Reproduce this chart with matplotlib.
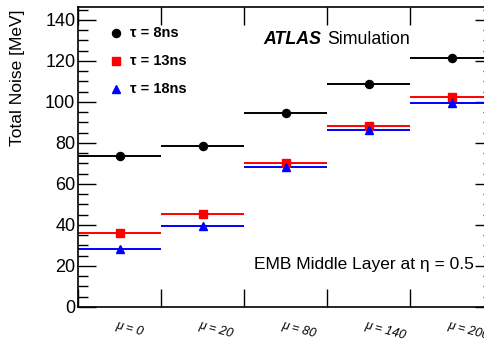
import matplotlib
matplotlib.use("Agg")
import matplotlib.pyplot as plt
from matplotlib.ticker import MultipleLocator, FixedLocator
import matplotlib.transforms as mtransforms

plt.rcParams['font.family'] = ['Liberation Sans', 'DejaVu Sans']

# data
bin_labels = ["\u03bc = 0", "\u03bc = 20", "\u03bc = 80", "\u03bc = 140", "\u03bc = 200"]
noise_8ns = [73.7, 78.7, 94.8, 108.5, 121.3]
noise_13ns = [36.2, 45.2, 70.2, 88.3, 102.2]
noise_18ns = [28.3, 39.5, 68.3, 86.2, 99.6]
series_labels = ["\u03c4 = 8ns", "\u03c4 = 13ns", "\u03c4 = 18ns"]

fig = plt.figure(figsize=(4.85, 3.43), dpi=100)
ax = fig.add_axes([0.161, 0.105, 1.0165 - 0.161, 0.875])

n = len(bin_labels)
centers = [i + 0.5 for i in range(n)]
series = [(noise_8ns, 'black', 'o', 5.8), (noise_13ns, '#ff0000', 's', 5.4), (noise_18ns, '#0000ff', '^', 5.4)]
for vals, col, mk, ms in series:
    for i, v in enumerate(vals):
        ax.hlines(v, i, i + 1, color=col, lw=1.4, zorder=2)
    ax.plot(centers, vals, ls='none', marker=mk, color=col, ms=ms, zorder=3)

ax.set_xlim(0, n)
ax.set_ylim(0, 146.3)
ax.xaxis.set_major_locator(FixedLocator(list(range(n + 1))))
ax.set_xticklabels([])
ax.yaxis.set_major_locator(MultipleLocator(20))
ax.yaxis.set_minor_locator(MultipleLocator(5))
ax.tick_params(axis='both', which='both', direction='in', top=True, right=True, width=1)
ax.tick_params(axis='y', which='major', length=13, labelsize=13, pad=2)
ax.tick_params(axis='y', which='minor', length=7)
ax.tick_params(axis='x', which='major', length=13)
for s in ax.spines.values():
    s.set_linewidth(1.2)

ax.set_ylabel("Total Noise [MeV]", fontsize=12.5, loc='top')
ax.yaxis.set_label_coords(-0.128, 0.99)

trans = mtransforms.blended_transform_factory(ax.transData, ax.transAxes)
for c, lab in zip(centers, bin_labels):
    ax.text(c - 0.03, -0.042, lab, transform=trans, fontsize=9, style='italic',
            rotation=-15, rotation_mode='anchor', ha='left', va='top')

# legend (manual)
leg_y = [33, 61, 89]
for (vals, col, mk, ms), lab, yp in zip(series, series_labels, leg_y):
    xf, yf = 116 / 485, 1 - yp / 343
    fig.lines.append(plt.Line2D([xf], [yf], transform=fig.transFigure, marker=mk,
                                color=col, ms=ms, ls='none'))
    fig.text(130 / 485, yf, lab, fontsize=10.5, fontweight='bold', va='center', ha='left')

fig.text(263 / 485, 1 - 40 / 343, "ATLAS", fontsize=12.8, fontweight='bold', style='italic',
         va='center', ha='left')
fig.text(327 / 485, 1 - 40 / 343, "Simulation", fontsize=12.8, va='center', ha='left')
fig.text(254 / 485, 1 - 264 / 343, "EMB Middle Layer at \u03b7 = 0.5", fontsize=12.5,
         va='center', ha='left')

fig.savefig("out.png", dpi=100)
